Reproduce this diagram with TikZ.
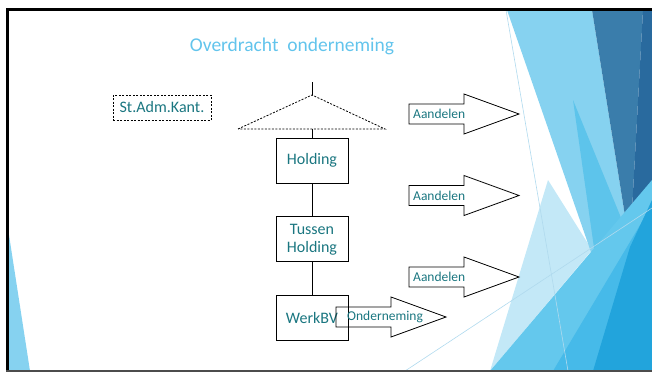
\documentclass[tikz,border=0pt]{standalone}
\usepackage{fontspec}
\setmainfont{Carlito}
\usetikzlibrary{positioning}

\definecolor{tealtxt}{RGB}{26,118,128}
\definecolor{titleblue}{RGB}{98,196,236}
\definecolor{facetlight}{RGB}{134,210,240}
\definecolor{facetmid}{RGB}{93,196,235}
\definecolor{facetsteel}{RGB}{58,125,171}
\definecolor{facetdark}{RGB}{41,106,158}
\definecolor{facetbright}{RGB}{34,164,220}
\definecolor{facetsky}{RGB}{100,200,237}
\definecolor{facetmed}{RGB}{70,186,233}
\definecolor{facetpale}{RGB}{195,232,247}
\definecolor{facetline}{RGB}{176,218,238}

\begin{document}
\begin{tikzpicture}[x=1pt, y=-1pt,
  box/.style={draw=black, line width=0.9pt, minimum width=72pt, minimum height=45pt,
    inner sep=0pt, align=center, text=tealtxt, font=\fontsize{16}{18}\selectfont},
  dbox/.style={draw=black, dash pattern=on 2pt off 1.5pt, line width=0.8pt,
    minimum width=98pt, minimum height=25pt, inner sep=0pt, text=tealtxt,
    font=\fontsize{16}{18}\selectfont},
  blk/.style={draw=black, line width=0.8pt, line join=miter},
  link/.style={line width=0.8pt},
  lab/.style={text=tealtxt, font=\fontsize{13.5}{15}\selectfont, inner sep=0pt}]
  \useasboundingbox (0,0) rectangle (652,372);
  % achtergrond (Facet)
  \fill[facetpale] (548,180) -- (592,250) -- (490,371) -- cycle;
  \fill[facetlight] (507,10) -- (592,10) -- (630,247) -- (592,255) -- cycle;
  \fill[facetmid] (573,100) -- (628,235) -- (600,290) -- cycle;
  \fill[facetsteel] (592,10) -- (643,10) -- (630,247) -- cycle;
  \fill[facetdark] (643,10) -- (652,10) -- (652,195) -- (630,247) -- cycle;
  \fill[facetsky] (490,371) -- (652,180) -- (652,371) -- cycle;
  \fill[facetmed] (553,371) -- (652,205) -- (652,371) -- cycle;
  \fill[facetbright] (593,371) -- (630,247) -- (652,200) -- (652,371) -- cycle;
  \fill[facetlight] (9,235) -- (30,371) -- (9,371) -- cycle;
  \draw[facetline, line width=0.6pt] (506,10) -- (568,371);
  \draw[facetline, line width=0.6pt] (405,371) -- (652,208);
  % kader
  \fill[black] (6,8) rectangle (652,11);
  \fill[black] (6,8) rectangle (9,371);
  \fill[black!70] (6,369.5) rectangle (652,372);
  % titel
  \node[text=titleblue, font=\fontsize{19.5}{23}\selectfont] (title) at (292,46) {Overdracht\ \ onderneming};
  % structuur
  \node[dbox] (stak) at (162,107.5) {St.Adm.Kant.};
  \coordinate (stem) at (312,82);
  \coordinate (apex) at (312,95);
  \coordinate (bl) at (238,129);
  \coordinate (br) at (385,129);
  \coordinate (base) at (312,129);
  \draw[link, dash pattern=on 2pt off 1.5pt] (bl) -- (apex) -- (br) -- cycle;
  \draw[link] (stem) -- (apex);
  \node[box] (hold) at (312,160.5) {Holding};
  \node[box, below=33pt of hold] (tus) {Tussen\\Holding};
  \node[box, below=33pt of tus] (werk) {WerkBV};
  \draw[link] (base) -- (hold.north);
  \draw[link] (hold) -- (tus);
  \draw[link] (tus) -- (werk);
  % pijlen
  \coordinate (a1) at (409,114);
  \coordinate (a2) at (409,195.5);
  \coordinate (a3) at (409,277);
  \coordinate (a4) at (336,317);
  \draw[blk] (a1) ++(0,-10) -- ++(55,0) -- ++(0,-10) -- ++(55,20) -- ++(-55,20) -- ++(0,-10) -- ++(-55,0) -- cycle;
  \draw[blk] (a2) ++(0,-10) -- ++(55,0) -- ++(0,-10) -- ++(55,20) -- ++(-55,20) -- ++(0,-10) -- ++(-55,0) -- cycle;
  \draw[blk] (a3) ++(0,-10) -- ++(55,0) -- ++(0,-10) -- ++(55,20) -- ++(-55,20) -- ++(0,-10) -- ++(-55,0) -- cycle;
  \draw[blk] (a4) ++(0,-10) -- ++(55,0) -- ++(0,-10) -- ++(55,20) -- ++(-55,20) -- ++(0,-10) -- ++(-55,0) -- cycle;
  \node[lab, right=4pt of a1] (t1) {Aandelen};
  \node[lab, right=4pt of a2] (t2) {Aandelen};
  \node[lab, right=4pt of a3] (t3) {Aandelen};
  \node[lab, right=11pt of a4] (t4) {Onderneming};
\end{tikzpicture}
\end{document}
